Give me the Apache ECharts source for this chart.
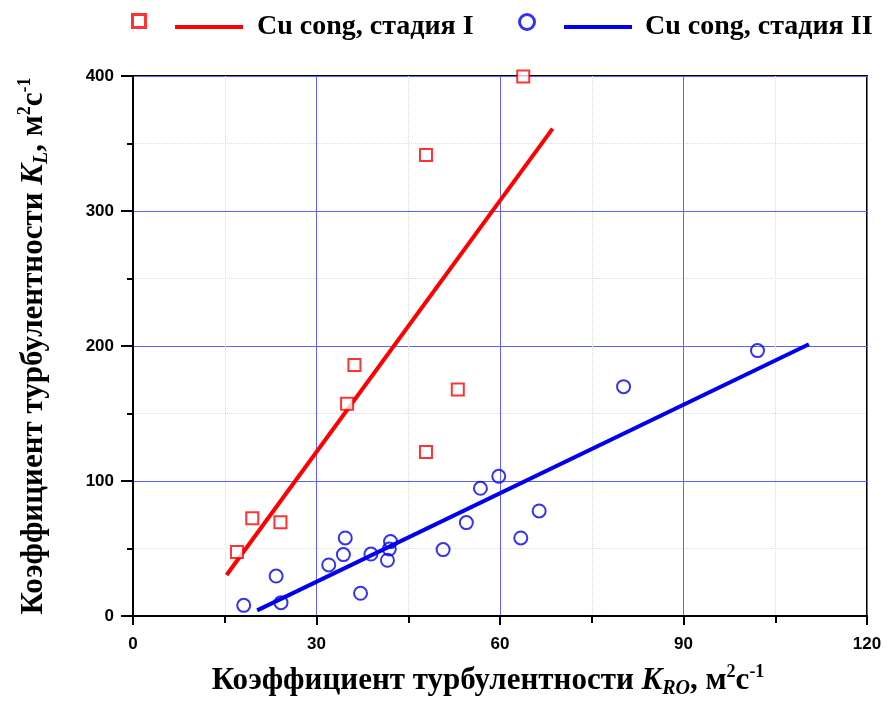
<!DOCTYPE html>
<html>
<head>
<meta charset="utf-8">
<script src="https://cdn.jsdelivr.net/npm/echarts@6/dist/echarts.min.js"></script>
<style>
  html, body { margin: 0; padding: 0; background: #fff; }
  #chart { width: 887px; height: 703px; }
</style>
</head>
<body>
<div id="chart"></div>
<script>
// Stage I: Cu cong measurements (K_RO, K_L)
const stage1X = [17.0, 19.5, 24.1, 35.0, 36.2, 47.9, 53.1, 47.9, 63.8];
const stage1Y = [47.4, 72.4, 69.4, 157.3, 186.0, 121.5, 167.7, 341.5, 399.6];
// Stage II: Cu cong measurements
const stage2X = [18.1, 23.4, 24.2, 32.0, 34.4, 34.7, 37.2, 38.9, 41.6, 41.9, 42.1, 50.7, 54.5, 56.8, 59.8, 63.4, 66.4, 80.2, 102.1];
const stage2Y = [7.9, 29.6, 9.9, 37.8, 45.5, 57.8, 16.8, 45.9, 41.3, 49.6, 55.1, 49.2, 69.2, 94.6, 103.5, 57.8, 77.8, 169.9, 196.6];
// Regression line end points
const fit1X = [15.3, 68.6];
const fit1Y = [30.4, 361.0];
const fit2X = [20.3, 110.5];
const fit2Y = [4.2, 201.3];
// Axis ticks
const xTicks = [0, 30, 60, 90, 120];
const yTicks = [0, 100, 200, 300, 400];

const name1 = 'Cu cong, стадия I';
const name2 = 'Cu cong, стадия II';
const pts1Name = 'pts1';
const pts2Name = 'pts2';

const zip = (xs, ys) => xs.map((x, i) => [x, ys[i]]);

const RED = '#ff0000';
const BLUE = '#0000ee';
const serif = '"Liberation Serif", "Times New Roman", serif';
const sans = '"Liberation Sans", Arial, sans-serif';

const titleRich = {
  b: { fontFamily: serif, fontWeight: 'bold', fontSize: 31, color: '#000' },
  i: { fontFamily: serif, fontWeight: 'bold', fontStyle: 'italic', fontSize: 31, color: '#000' },
  sub: { fontFamily: serif, fontWeight: 'bold', fontStyle: 'italic', fontSize: 20, color: '#000', padding: [17, 0, 0, 0] },
  sup: { fontFamily: serif, fontWeight: 'bold', fontSize: 18, color: '#000', padding: [0, 0, 17, 0] }
};

const legendText = { fontFamily: serif, fontWeight: 'bold', fontSize: 28, color: '#000' };
function legendItem(name, left, extra) {
  return Object.assign({
    top: 8,
    left: left,
    data: [name],
    itemGap: 0,
    textStyle: legendText,
    selectedMode: false
  }, extra);
}

const chart = echarts.init(document.getElementById('chart'), null, { renderer: 'canvas' });
chart.setOption({
  animation: false,
  backgroundColor: '#fff',
  legend: [
    legendItem(pts1Name, 126, { itemWidth: 13, itemHeight: 13, formatter: () => '', itemStyle: { borderWidth: 3 } }),
    legendItem(name1, 170, { icon: 'rect', itemWidth: 68, itemHeight: 4, textStyle: Object.assign({ padding: [0, 0, 0, 9] }, legendText) }),
    legendItem(pts2Name, 513, { itemWidth: 15, itemHeight: 15, formatter: () => '', itemStyle: { borderWidth: 3 } }),
    legendItem(name2, 559, { icon: 'rect', itemWidth: 68, itemHeight: 4, textStyle: Object.assign({ padding: [0, 0, 0, 8] }, legendText) })
  ],
  grid: {
    left: 133, right: 20, top: 76, bottom: 87,
    outerBoundsMode: 'none',
    show: true, borderColor: '#000', borderWidth: 2, backgroundColor: 'transparent'
  },
  xAxis: {
    type: 'value', min: xTicks[0], max: xTicks[xTicks.length - 1], interval: 30,
    name: '{b|Коэффициент турбулентности }{i|K}{sub|RO}{b|, м}{sup|2}{b|с}{sup|-1}',
    nameLocation: 'middle', nameGap: 46,
    nameTextStyle: { rich: titleRich, padding: [0, 24, 0, 0] },
    axisLine: { show: true, lineStyle: { color: '#000', width: 2 } },
    axisTick: { show: true, inside: false, length: 9, lineStyle: { color: '#000', width: 2 } },
    minorTick: { show: true, splitNumber: 2, length: 7, lineStyle: { color: '#000', width: 2 } },
    axisLabel: { margin: 20, fontFamily: sans, fontWeight: 'bold', fontSize: 17, color: '#000' },
    splitLine: { show: true, lineStyle: { color: '#6060ff', width: 1 } },
    minorSplitLine: { show: true, lineStyle: { color: '#c6eac6', width: 1, type: 'dotted' } }
  },
  yAxis: {
    type: 'value', min: yTicks[0], max: yTicks[yTicks.length - 1], interval: 100,
    name: '{b|Коэффициент турбулентности }{i|K}{sub|L}{b|, м}{sup|2}{b|с}{sup|-1}',
    nameLocation: 'middle', nameRotate: 90, nameGap: 81,
    nameTextStyle: { rich: titleRich },
    axisLine: { show: true, lineStyle: { color: '#000', width: 2 } },
    axisTick: { show: true, inside: false, length: 12, lineStyle: { color: '#000', width: 2 } },
    minorTick: { show: true, splitNumber: 2, length: 6, lineStyle: { color: '#000', width: 2 } },
    axisLabel: { margin: 19, fontFamily: sans, fontWeight: 'bold', fontSize: 17, color: '#000' },
    splitLine: { show: true, lineStyle: { color: '#6060ff', width: 1 } },
    minorSplitLine: { show: true, lineStyle: { color: '#c6eac6', width: 1, type: 'dotted' } }
  },
  series: [
    {
      name: pts1Name, type: 'scatter', data: zip(stage1X, stage1Y),
      symbol: 'rect', symbolSize: 12,
      itemStyle: { color: '#fff', borderColor: RED, borderWidth: 2 },
      z: 3
    },
    {
      name: name1, type: 'line', data: zip(fit1X, fit1Y),
      symbol: 'none', showSymbol: false,
      lineStyle: { color: RED, width: 4 }, itemStyle: { color: RED },
      z: 2
    },
    {
      name: pts2Name, type: 'scatter', data: zip(stage2X, stage2Y),
      symbol: 'circle', symbolSize: 13,
      itemStyle: { color: 'rgba(255,255,255,0)', borderColor: BLUE, borderWidth: 2 },
      z: 3
    },
    {
      name: name2, type: 'line', data: zip(fit2X, fit2Y),
      symbol: 'none', showSymbol: false,
      lineStyle: { color: BLUE, width: 4 }, itemStyle: { color: BLUE },
      z: 2
    }
  ]
});
</script>
</body>
</html>
